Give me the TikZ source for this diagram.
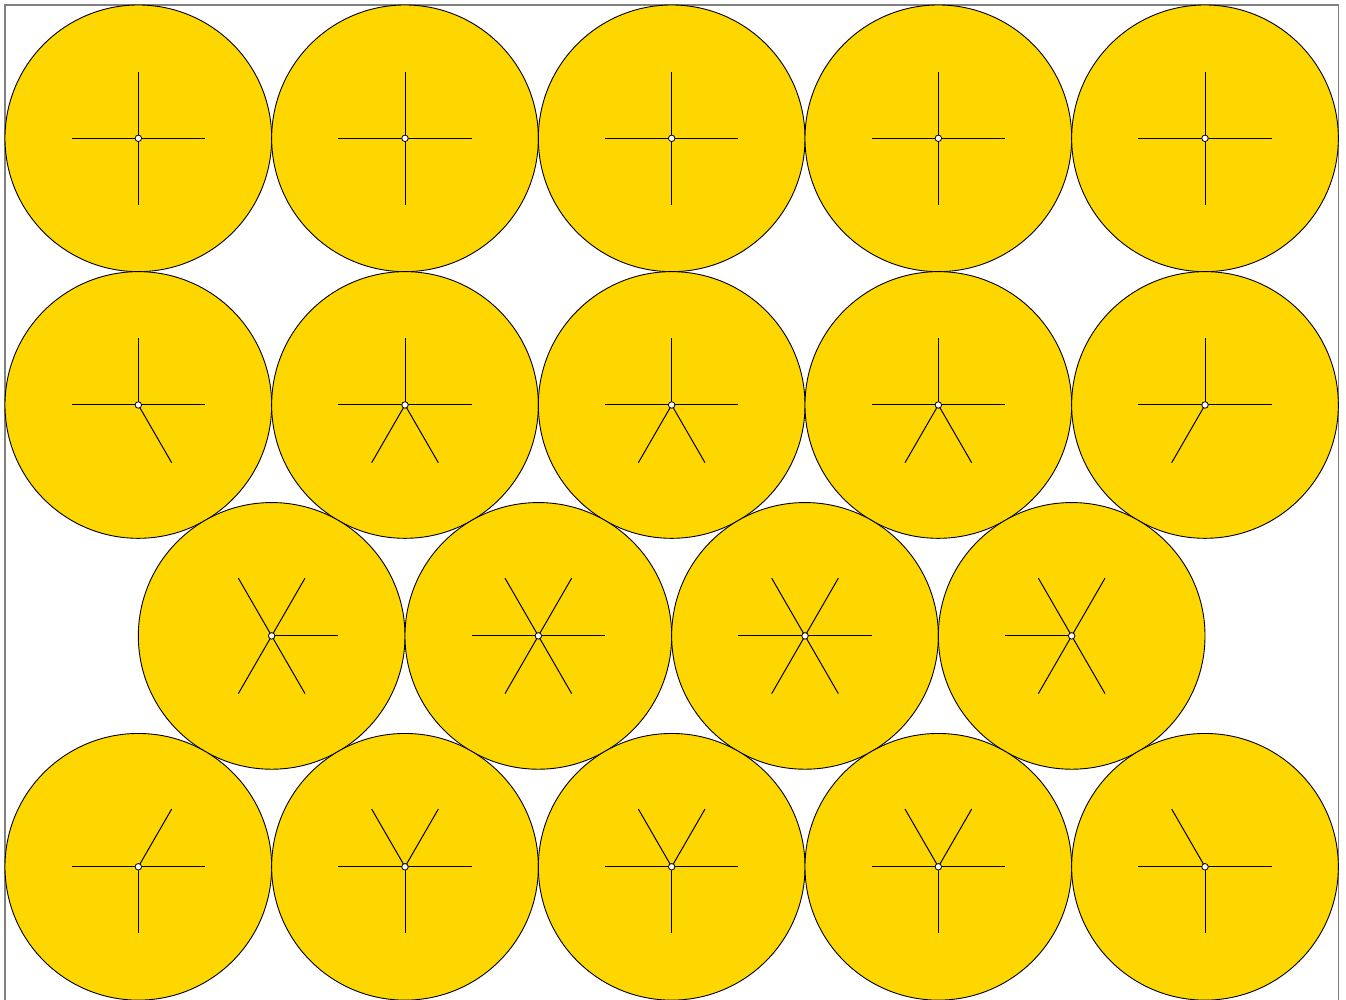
\documentclass[tikz,border=0pt]{standalone}
\definecolor{disc}{HTML}{FFD700}
\tikzset{
  x=1pt,y=1pt,
  discstyle/.style={fill=disc,draw=black,line width=0.9pt},
  spoke/.style={draw=black,line width=1pt},
  hub/.style={circle,fill=white,draw=black,line width=0.8pt,inner sep=0pt,minimum size=6.5pt},
  frame/.style={draw=gray,line width=1.2pt}
}
\newcommand{\wheel}[4]{% name, x, y, angle list
  \fill[discstyle] (#2,#3) circle (133.33);
  \foreach \a in {#4} \draw[spoke] (#2,#3) -- ++(\a:66.67);
  \node[hub] (#1) at (#2,#3) {};
}
\begin{document}
\begin{tikzpicture}
\useasboundingbox (0,0) rectangle (1346,1000);
\draw[frame] (5,-2) rectangle (1338.3,995);
% row 1
\wheel{a1}{138.33}{861.67}{0,90,180,270}
\wheel{a2}{405}{861.67}{0,90,180,270}
\wheel{a3}{671.67}{861.67}{0,90,180,270}
\wheel{a4}{938.33}{861.67}{0,90,180,270}
\wheel{a5}{1205}{861.67}{0,90,180,270}
% row 2
\wheel{b1}{138.33}{595}{0,90,180,300}
\wheel{b2}{405}{595}{0,90,180,240,300}
\wheel{b3}{671.67}{595}{0,90,180,240,300}
\wheel{b4}{938.33}{595}{0,90,180,240,300}
\wheel{b5}{1205}{595}{0,90,180,240}
% row 3
\wheel{c1}{271.67}{364.1}{0,60,120,240,300}
\wheel{c2}{538.33}{364.1}{0,60,120,180,240,300}
\wheel{c3}{805}{364.1}{0,60,120,180,240,300}
\wheel{c4}{1071.67}{364.1}{60,120,180,240,300}
% row 4
\wheel{d1}{138.33}{133.2}{0,60,180,270}
\wheel{d2}{405}{133.2}{0,60,120,180,270}
\wheel{d3}{671.67}{133.2}{0,60,120,180,270}
\wheel{d4}{938.33}{133.2}{0,60,120,180,270}
\wheel{d5}{1205}{133.2}{0,120,180,270}
\end{tikzpicture}
\end{document}
